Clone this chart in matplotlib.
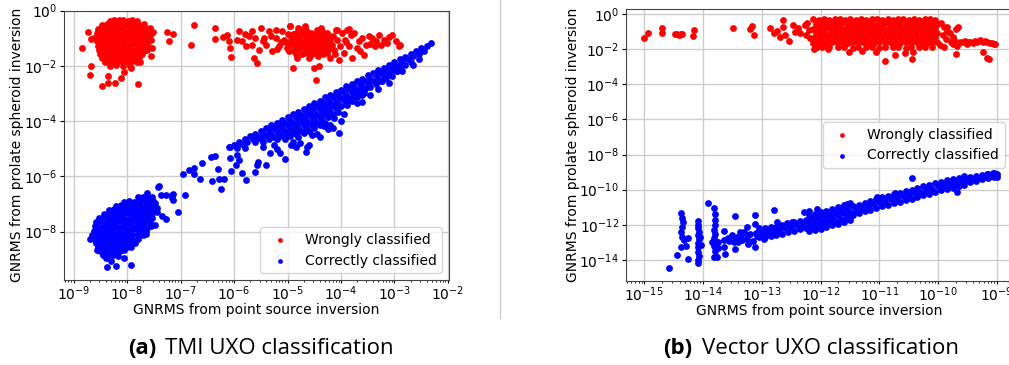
import numpy as np
import matplotlib.pyplot as plt
from matplotlib.lines import Line2D

# All values are log10(GNRMS).
# Panel (a): TMI UXO classification
tmi_wrong = [
    # dense cluster around 1e-8
    (-8.32, -0.36), (-8.24, -0.34), (-8.15, -0.35), (-8.07, -0.33), (-7.98, -0.36), (-7.9, -0.34), (-7.81, -0.37),
    (-8.46, -0.5), (-8.37, -0.48), (-8.29, -0.52), (-8.2, -0.49), (-8.12, -0.51), (-8.03, -0.47), (-7.95, -0.52),
    (-7.86, -0.5), (-7.77, -0.53), (-7.68, -0.49),
    (-8.55, -0.66), (-8.46, -0.63), (-8.38, -0.67), (-8.3, -0.64), (-8.21, -0.66), (-8.13, -0.62), (-8.04, -0.67),
    (-7.96, -0.65), (-7.87, -0.63), (-7.78, -0.68), (-7.7, -0.64), (-7.62, -0.66),
    (-8.57, -0.81), (-8.49, -0.79), (-8.4, -0.82), (-8.32, -0.78), (-8.23, -0.81), (-8.15, -0.8), (-8.06, -0.83),
    (-7.98, -0.79), (-7.89, -0.81), (-7.8, -0.78), (-7.72, -0.82), (-7.63, -0.8), (-7.56, -0.83),
    (-8.56, -0.96), (-8.47, -0.94), (-8.39, -0.97), (-8.3, -0.93), (-8.22, -0.96), (-8.13, -0.95), (-8.05, -0.92),
    (-7.96, -0.97), (-7.88, -0.94), (-7.79, -0.96), (-7.7, -0.93), (-7.6, -0.97),
    (-8.57, -1.1), (-8.48, -1.12), (-8.4, -1.08), (-8.31, -1.11), (-8.23, -1.09), (-8.14, -1.13), (-8.06, -1.1),
    (-7.97, -1.07), (-7.89, -1.12), (-7.8, -1.1), (-7.71, -1.08), (-7.62, -1.12),
    (-8.55, -1.26), (-8.46, -1.24), (-8.38, -1.27), (-8.29, -1.23), (-8.21, -1.26), (-8.12, -1.24), (-8.04, -1.28),
    (-7.95, -1.25), (-7.87, -1.22), (-7.78, -1.26), (-7.69, -1.24), (-7.61, -1.27),
    (-8.53, -1.41), (-8.45, -1.39), (-8.36, -1.42), (-8.28, -1.38), (-8.19, -1.41), (-8.11, -1.4), (-8.02, -1.43),
    (-7.94, -1.39), (-7.85, -1.41), (-7.76, -1.38), (-7.66, -1.42),
    (-8.5, -1.56), (-8.42, -1.53), (-8.33, -1.57), (-8.25, -1.54), (-8.16, -1.56), (-8.08, -1.52), (-7.99, -1.57),
    (-7.91, -1.55), (-7.82, -1.53), (-7.72, -1.57),
    (-8.47, -1.71), (-8.38, -1.68), (-8.3, -1.72), (-8.21, -1.69), (-8.13, -1.71), (-8.04, -1.67), (-7.96, -1.72),
    (-7.87, -1.7), (-7.77, -1.68),
    (-8.42, -1.86), (-8.33, -1.84), (-8.25, -1.87), (-8.16, -1.83), (-8.08, -1.86), (-7.99, -1.85), (-7.9, -1.82),
    (-7.82, -1.87),
    (-8.32, -2.0), (-8.2, -1.98), (-8.08, -2.02), (-7.95, -1.99),
    (-8.84, -1.34), (-8.74, -0.77), (-8.67, -2.02), (-8.70, -2.32), (-8.46, -2.71), (-8.35, -2.38), (-8.35, -2.6),
    (-8.23, -2.62), (-8.12, -2.44), (-8.06, -2.22), (-7.79, -2.64), (-7.93, -2.08), (-7.75, -1.84), (-7.56, -1.65),
    (-7.55, -1.05), (-7.53, -1.35), (-7.62, -1.41), (-7.65, -0.81), (-7.58, -0.63), (-8.62, -0.99), (-8.67, -1.01),
    (-7.51, -0.77), (-7.26, -0.77), (-7.14, -0.85), (-7.22, -1.11), (-6.80, -1.23), (-6.75, -0.53),
    # sparse cloud between 1e-6.4 and 1e-3
    (-6.35, -0.63), (-6.36, -1.03), (-6.13, -0.87), (-6.10, -1.11), (-6.08, -1.35), (-6.05, -1.69), (-5.91, -0.72),
    (-5.94, -1.05), (-5.85, -1.09), (-5.77, -1.29), (-5.72, -0.93), (-5.66, -0.75), (-5.66, -1.23), (-5.63, -1.72),
    (-5.57, -1.90), (-5.54, -1.41), (-5.50, -0.63), (-5.44, -0.99), (-5.41, -1.23), (-5.35, -0.75), (-5.29, -1.47),
    (-5.22, -0.69), (-5.22, -0.99), (-5.16, -1.29), (-5.10, -0.75), (-5.07, -1.05), (-5.01, -1.35), (-4.96, -0.57),
    (-4.94, -0.93), (-4.91, -1.17), (-4.88, -1.47), (-4.89, -2.08), (-4.85, -0.81), (-4.83, -1.72), (-4.81, -0.63),
    (-4.79, -1.05), (-4.76, -1.29), (-4.73, -0.87), (-4.70, -1.53), (-4.66, -0.69), (-4.66, -1.17), (-4.63, -0.99),
    (-4.62, -1.35), (-4.60, -1.72), (-4.57, -0.81), (-4.56, -1.17), (-4.54, -1.47), (-4.51, -2.08), (-4.50, -0.99),
    (-4.48, -1.29), (-4.45, -0.69), (-4.43, -1.65), (-4.41, -2.02), (-4.38, -1.11), (-4.35, -0.87), (-4.32, -1.35),
    (-4.29, -1.17), (-4.26, -1.53), (-4.23, -0.93), (-4.20, -1.72), (-4.17, -1.23), (-4.13, -1.41), (-4.08, -0.69),
    (-4.07, -1.05), (-4.04, -1.78), (-4.01, -1.29), (-3.98, -0.81), (-3.95, -1.53), (-3.92, -1.05), (-3.88, -0.69),
    (-3.85, -1.29), (-3.82, -0.87), (-3.79, -1.72), (-3.75, -0.81), (-3.70, -1.35), (-3.67, -1.11), (-3.57, -1.59),
    (-3.54, -1.23), (-3.48, -0.93), (-3.45, -1.21), (-3.42, -0.99), (-3.36, -1.29), (-3.29, -0.87), (-3.26, -1.23),
    (-3.20, -1.05), (-3.14, -1.17), (-3.04, -0.87), (-2.98, -1.11), (-2.90, -1.23), (-4.46, -2.50), (-2.95, -2.20),
    (-2.92, -1.27), (-4.96, -0.54), (-4.68, -0.54), (-4.38, -0.63), (-4.10, -0.71), (-3.85, -0.66),
    (-4.85, -1.0), (-4.75, -1.15), (-4.65, -1.35), (-4.55, -1.0), (-4.45, -1.2), (-4.35, -1.4), (-4.7, -1.25),
    (-4.6, -0.9), (-4.5, -1.1), (-4.4, -0.95), (-4.3, -1.25), (-4.8, -1.4), (-4.9, -0.85), (-4.95, -1.2),
    (-4.58, -1.6), (-4.45, -1.5), (-4.75, -0.75), (-4.62, -1.48), (-4.35, -1.05), (-4.25, -1.4), (-5.05, -1.15),
    (-4.88, -1.3), (-4.68, -1.08), (-4.52, -1.28), (-4.4, -1.32), (-4.72, -1.58),
    (-5.0, -0.85), (-4.97, -1.45), (-4.93, -1.05), (-4.86, -1.22), (-4.84, -1.55), (-4.8, -0.95), (-4.78, -1.35),
    (-4.74, -0.7), (-4.71, -1.12), (-4.68, -1.42), (-4.64, -0.8), (-4.61, -1.05), (-4.59, -1.25), (-4.55, -1.58),
    (-4.53, -0.88), (-4.49, -1.38), (-4.47, -1.05), (-4.43, -0.8), (-4.42, -1.45), (-4.39, -1.22), (-4.36, -0.75),
    (-4.33, -1.58), (-4.3, -1.0), (-4.27, -0.8), (-4.24, -1.3), (-4.21, -1.1), (-4.15, -0.9), (-4.12, -1.55),
    (-5.12, -1.15), (-5.2, -1.4), (-5.3, -0.9), (-5.45, -1.1), (-5.6, -1.0), (-5.8, -0.85), (-6.2, -0.95),
    (-3.6, -1.0), (-3.65, -1.45), (-3.9, -1.15), (-3.35, -1.1), (-3.1, -0.95),
]

tmi_correct = [
    # diagonal band, upper edge first
    (-6.1, -4.95), (-6.0, -4.86), (-5.9, -4.74), (-5.8, -4.66), (-5.7, -4.55), (-5.6, -4.46), (-5.5, -4.34),
    (-5.4, -4.26), (-5.3, -4.15), (-5.2, -4.06), (-5.1, -3.95), (-5.0, -3.86), (-4.9, -3.74), (-4.8, -3.66),
    (-4.7, -3.55), (-4.6, -3.46), (-4.5, -3.35), (-4.4, -3.26), (-4.3, -3.14), (-4.2, -3.06), (-4.1, -2.95),
    (-4.0, -2.86), (-3.9, -2.74), (-3.8, -2.66), (-3.7, -2.55), (-3.6, -2.46), (-3.5, -2.34), (-3.4, -2.26),
    (-3.3, -2.15), (-3.2, -2.06), (-3.1, -1.95), (-3.0, -1.86), (-2.9, -1.74), (-2.8, -1.66), (-2.7, -1.55),
    (-2.6, -1.46), (-2.5, -1.35), (-2.4, -1.26), (-2.31, -1.16),
    (-5.95, -4.96), (-5.85, -4.84), (-5.75, -4.76), (-5.65, -4.64), (-5.55, -4.56), (-5.45, -4.46), (-5.35, -4.34),
    (-5.25, -4.26), (-5.15, -4.14), (-5.05, -4.06), (-4.95, -3.96), (-4.85, -3.84), (-4.75, -3.76), (-4.65, -3.64),
    (-4.55, -3.56), (-4.45, -3.46), (-4.35, -3.34), (-4.25, -3.26), (-4.15, -3.14), (-4.05, -3.06), (-3.95, -2.96),
    (-3.85, -2.84), (-3.75, -2.76), (-3.65, -2.64), (-3.55, -2.56), (-3.45, -2.46), (-3.35, -2.34), (-3.25, -2.26),
    (-3.15, -2.14), (-3.05, -2.06), (-2.95, -1.96), (-2.85, -1.84), (-2.75, -1.76), (-2.65, -1.64), (-2.55, -1.56),
    (-2.45, -1.46),
    (-5.6, -4.76), (-5.5, -4.66), (-5.4, -4.54), (-5.3, -4.46), (-5.2, -4.35), (-5.1, -4.26), (-5.0, -4.14),
    (-4.9, -4.06), (-4.8, -3.95), (-4.7, -3.86), (-4.6, -3.74), (-4.5, -3.66), (-4.4, -3.55), (-4.3, -3.46),
    (-4.2, -3.34), (-4.1, -3.26), (-4.0, -3.15), (-3.9, -3.06), (-3.8, -2.94), (-3.7, -2.86), (-3.6, -2.75),
    (-3.5, -2.66), (-3.4, -2.54), (-3.3, -2.46), (-3.2, -2.35), (-3.1, -2.26), (-3.0, -2.14), (-2.9, -2.06),
    (-2.8, -1.95), (-2.7, -1.86),
    (-5.45, -4.76), (-5.35, -4.64), (-5.25, -4.56), (-5.15, -4.44), (-5.05, -4.36), (-4.95, -4.24), (-4.85, -4.16),
    (-4.75, -4.04), (-4.65, -3.96), (-4.55, -3.84), (-4.45, -3.76), (-4.35, -3.64), (-4.25, -3.56), (-4.15, -3.44),
    (-4.05, -3.36), (-3.95, -3.24), (-3.85, -3.16), (-3.75, -3.04), (-3.65, -2.96), (-3.55, -2.84), (-3.45, -2.76),
    (-3.35, -2.64), (-3.25, -2.56), (-3.15, -2.44), (-3.05, -2.36),
    (-5.2, -4.66), (-5.1, -4.54), (-5.0, -4.46), (-4.9, -4.34), (-4.8, -4.26), (-4.7, -4.14), (-4.6, -4.06),
    (-4.5, -3.94), (-4.4, -3.86), (-4.3, -3.74), (-4.2, -3.66), (-4.1, -3.54), (-4.0, -3.46), (-3.9, -3.34),
    (-3.8, -3.26), (-3.7, -3.14), (-3.6, -3.06),
    (-5.05, -4.66), (-4.95, -4.54), (-4.85, -4.46), (-4.75, -4.34), (-4.65, -4.26), (-4.55, -4.14), (-4.45, -4.06),
    (-4.35, -3.94), (-4.25, -3.86), (-4.15, -3.74), (-4.05, -3.66),
    (-4.8, -4.56), (-4.7, -4.44), (-4.6, -4.36), (-4.5, -4.26), (-4.4, -4.14), (-4.3, -4.06),
    # scatter below the band and the sparse bridge
    (-6.95, -5.91), (-6.84, -5.76), (-6.74, -5.70), (-6.75, -5.91), (-6.64, -6.09), (-6.59, -5.50), (-6.44, -5.28),
    (-6.36, -5.25), (-6.42, -6.18), (-6.30, -5.72), (-6.28, -6.10), (-6.18, -6.09), (-6.25, -6.46), (-6.07, -4.92),
    (-6.05, -5.82), (-5.94, -5.22), (-5.91, -5.42), (-5.77, -6.12), (-5.60, -5.84), (-5.55, -5.48), (-5.41, -5.58),
    (-5.04, -5.37), (-5.14, -5.16), (-4.65, -5.10), (-4.63, -4.92), (-4.40, -4.58), (-6.07, -5.34), (-5.97, -5.58),
    (-5.79, -4.98), (-5.85, -5.88), (-5.57, -5.58), (-5.32, -5.16), (-4.94, -4.86), (-4.76, -4.80), (-4.04, -4.41),
    (-4.32, -4.19), (-4.2, -4.13), (-4.13, -3.89), (-3.88, -3.41), (-3.76, -3.10), (-3.57, -2.98), (-3.23, -2.56),
    (-2.95, -2.2), (-5.45, -4.95), (-5.25, -4.85), (-5.2, -5.0), (-4.9, -4.75), (-4.85, -4.95), (-4.55, -4.5),
    (-4.45, -4.45), (-4.25, -4.3), (-4.0, -4.0), (-3.95, -3.75), (-3.7, -3.35), (-3.45, -3.05), (-3.3, -2.85),
    (-3.1, -2.6), (-2.85, -2.2), (-2.65, -1.95), (-2.55, -1.75), (-3.6, -3.3), (-4.15, -4.25), (-4.6, -4.85),
    # cluster around 1e-8
    (-7.8, -6.76), (-7.71, -6.73), (-7.62, -6.77), (-7.54, -6.74),
    (-8.05, -6.91), (-7.96, -6.88), (-7.87, -6.92), (-7.78, -6.9), (-7.69, -6.87), (-7.6, -6.92), (-7.52, -6.89),
    (-8.2, -7.06), (-8.11, -7.03), (-8.02, -7.07), (-7.93, -7.04), (-7.84, -7.06), (-7.75, -7.02), (-7.66, -7.07),
    (-7.57, -7.05), (-7.5, -7.03),
    (-8.33, -7.21), (-8.24, -7.18), (-8.15, -7.22), (-8.06, -7.19), (-7.97, -7.21), (-7.88, -7.2), (-7.79, -7.23),
    (-7.7, -7.18), (-7.61, -7.21), (-7.53, -7.19),
    (-8.43, -7.36), (-8.34, -7.33), (-8.25, -7.37), (-8.16, -7.34), (-8.07, -7.36), (-7.98, -7.32), (-7.89, -7.37),
    (-7.8, -7.35), (-7.71, -7.33), (-7.62, -7.37), (-7.54, -7.34),
    (-8.52, -7.51), (-8.43, -7.48), (-8.34, -7.52), (-8.25, -7.49), (-8.16, -7.51), (-8.07, -7.5), (-7.98, -7.53),
    (-7.89, -7.48), (-7.8, -7.51), (-7.71, -7.49), (-7.62, -7.52), (-7.54, -7.5),
    (-8.58, -7.66), (-8.49, -7.63), (-8.4, -7.67), (-8.31, -7.64), (-8.22, -7.66), (-8.13, -7.62), (-8.04, -7.67),
    (-7.95, -7.65), (-7.86, -7.63), (-7.77, -7.67), (-7.68, -7.64), (-7.58, -7.66),
    (-8.6, -7.8), (-8.51, -7.82), (-8.42, -7.78), (-8.33, -7.81), (-8.24, -7.79), (-8.15, -7.83), (-8.06, -7.8),
    (-7.97, -7.77), (-7.88, -7.82), (-7.79, -7.8), (-7.7, -7.78), (-7.61, -7.82),
    (-8.61, -7.96), (-8.52, -7.94), (-8.43, -7.97), (-8.34, -7.93), (-8.25, -7.96), (-8.16, -7.94), (-8.07, -7.98),
    (-7.98, -7.95), (-7.89, -7.92), (-7.8, -7.96), (-7.7, -7.94), (-7.64, -7.97),
    (-8.62, -8.11), (-8.53, -8.09), (-8.44, -8.12), (-8.35, -8.08), (-8.26, -8.11), (-8.17, -8.1), (-8.08, -8.13),
    (-7.99, -8.09), (-7.9, -8.11), (-7.8, -8.08), (-7.71, -8.12),
    (-8.62, -8.26), (-8.53, -8.23), (-8.44, -8.27), (-8.35, -8.24), (-8.26, -8.26), (-8.17, -8.22), (-8.08, -8.27),
    (-7.99, -8.25), (-7.9, -8.23), (-7.8, -8.26),
    (-8.58, -8.41), (-8.49, -8.39), (-8.4, -8.42), (-8.31, -8.38), (-8.22, -8.41), (-8.13, -8.4), (-8.04, -8.43),
    (-7.95, -8.39), (-7.86, -8.41),
    (-8.55, -8.56), (-8.46, -8.53), (-8.37, -8.57), (-8.28, -8.54), (-8.19, -8.56), (-8.1, -8.52), (-8.01, -8.57),
    (-7.93, -8.55),
    (-8.5, -8.71), (-8.41, -8.68), (-8.32, -8.72), (-8.23, -8.69), (-8.14, -8.71), (-8.05, -8.67),
    (-8.35, -8.86), (-8.26, -8.84), (-8.17, -8.87),
    (-8.69, -8.27), (-8.65, -8.12), (-8.56, -8.66), (-8.40, -8.96), (-8.37, -9.29), (-8.20, -9.26), (-7.93, -9.20),
    (-8.06, -8.96), (-7.65, -8.08), (-7.56, -7.81), (-7.28, -7.55), (-7.62, -6.61), (-7.41, -6.36), (-7.37, -6.67),
    (-7.28, -6.67), (-7.16, -6.67), (-7.16, -6.79), (-6.92, -6.67), (-7.04, -7.27), (-7.34, -7.43), (-7.44, -7.15),
    (-7.42, -6.39), (-7.14, -6.64), (-7.14, -6.85), (-7.48, -6.95), (-7.45, -7.3), (-7.47, -7.75), (-8.3, -9.05),
    (-8.45, -8.85),
]

# Panel (b): Vector UXO classification
vec_wrong = [
    (-15.0, -1.38), (-14.93, -1.06), (-14.70, -0.78), (-14.69, -1.10), (-14.47, -1.16), (-14.44, -1.15),
    (-14.41, -1.17), (-14.38, -1.16), (-14.35, -1.16), (-14.16, -0.91), (-14.17, -1.23), (-13.49, -0.81),
    (-13.20, -0.85), (-13.17, -0.68), (-13.13, -1.20),
    (-12.86, -0.82), (-12.79, -1.10), (-12.74, -0.97), (-12.64, -0.34), (-12.63, -0.72), (-12.60, -1.20),
    (-12.53, -1.54), (-12.46, -0.63), (-12.43, -1.01), (-12.38, -0.82), (-12.35, -1.10), (-12.26, -0.63),
    (-12.25, -1.20), (-12.20, -0.91), (-12.18, -1.38), (-12.13, -1.67), (-12.11, -2.01), (-12.69, -1.29),
    (-12.23, -0.53), (-12.06, -1.86), (-11.88, -2.01),
    # dense block
    (-12.12, -0.31), (-12.03, -0.33), (-11.94, -0.3), (-11.85, -0.32), (-11.76, -0.29), (-11.67, -0.31),
    (-11.58, -0.33), (-11.49, -0.3), (-11.4, -0.32), (-11.31, -0.3), (-11.22, -0.33), (-11.13, -0.31),
    (-11.04, -0.29), (-10.95, -0.32), (-10.86, -0.3), (-10.77, -0.33), (-10.68, -0.31), (-10.59, -0.29),
    (-10.5, -0.32), (-10.41, -0.3), (-10.32, -0.33), (-10.23, -0.31), (-10.14, -0.3), (-10.05, -0.32),
    (-12.08, -0.57), (-11.99, -0.55), (-11.9, -0.59), (-11.81, -0.56), (-11.72, -0.58), (-11.63, -0.54),
    (-11.54, -0.59), (-11.45, -0.57), (-11.36, -0.55), (-11.27, -0.58), (-11.18, -0.56), (-11.09, -0.6),
    (-11.0, -0.57), (-10.91, -0.54), (-10.82, -0.58), (-10.73, -0.56), (-10.64, -0.59), (-10.55, -0.57),
    (-10.46, -0.55), (-10.37, -0.58), (-10.28, -0.56), (-10.19, -0.59), (-10.1, -0.57), (-10.01, -0.55),
    (-12.12, -0.83), (-12.03, -0.81), (-11.94, -0.85), (-11.85, -0.82), (-11.76, -0.84), (-11.67, -0.8),
    (-11.58, -0.85), (-11.49, -0.83), (-11.4, -0.81), (-11.31, -0.84), (-11.22, -0.82), (-11.13, -0.86),
    (-11.04, -0.83), (-10.95, -0.8), (-10.86, -0.84), (-10.77, -0.82), (-10.68, -0.85), (-10.59, -0.83),
    (-10.5, -0.81), (-10.41, -0.84), (-10.32, -0.82), (-10.23, -0.85), (-10.14, -0.83), (-10.05, -0.81),
    (-12.08, -1.09), (-11.99, -1.07), (-11.9, -1.11), (-11.81, -1.08), (-11.72, -1.1), (-11.63, -1.06),
    (-11.54, -1.11), (-11.45, -1.09), (-11.36, -1.07), (-11.27, -1.1), (-11.18, -1.08), (-11.09, -1.12),
    (-11.0, -1.09), (-10.91, -1.06), (-10.82, -1.1), (-10.73, -1.08), (-10.64, -1.11), (-10.55, -1.09),
    (-10.46, -1.07), (-10.37, -1.1), (-10.28, -1.08), (-10.19, -1.11), (-10.1, -1.09), (-10.01, -1.07),
    (-12.12, -1.35), (-12.03, -1.33), (-11.94, -1.37), (-11.85, -1.34), (-11.76, -1.36), (-11.67, -1.32),
    (-11.58, -1.37), (-11.49, -1.35), (-11.4, -1.33), (-11.31, -1.36), (-11.22, -1.34), (-11.13, -1.38),
    (-11.04, -1.35), (-10.95, -1.32), (-10.86, -1.36), (-10.77, -1.34), (-10.68, -1.37), (-10.59, -1.35),
    (-10.5, -1.33), (-10.41, -1.36), (-10.32, -1.34), (-10.23, -1.37), (-10.14, -1.35), (-10.05, -1.33),
    (-12.08, -1.61), (-11.99, -1.59), (-11.9, -1.63), (-11.81, -1.6), (-11.72, -1.62), (-11.63, -1.58),
    (-11.54, -1.63), (-11.45, -1.61), (-11.36, -1.59), (-11.27, -1.62), (-11.18, -1.6), (-11.09, -1.64),
    (-11.0, -1.61), (-10.91, -1.58), (-10.82, -1.62), (-10.73, -1.6), (-10.64, -1.63), (-10.55, -1.61),
    (-10.46, -1.59), (-10.37, -1.62), (-10.28, -1.6), (-10.19, -1.63), (-10.1, -1.61), (-10.01, -1.59),
    (-12.1, -1.87), (-11.97, -1.89), (-11.85, -1.86), (-11.7, -1.9), (-11.6, -1.87), (-11.45, -1.91),
    (-11.36, -1.86), (-11.22, -1.89), (-11.13, -1.87), (-11.0, -1.92), (-10.9, -1.86), (-10.77, -1.9),
    (-10.68, -1.87), (-10.55, -1.91), (-10.46, -1.86), (-10.32, -1.89), (-10.23, -1.87), (-10.1, -1.9),
    # right side and tail
    (-9.95, -0.5), (-9.9, -0.75), (-9.85, -0.95), (-9.92, -1.2), (-9.87, -1.42), (-9.8, -1.1), (-9.75, -1.3),
    (-9.7, -0.85), (-9.66, -0.76), (-9.72, -1.5), (-9.96, -1.75), (-9.9, -1.9), (-9.85, -0.72),
    (-9.63, -1.57), (-9.57, -1.62), (-9.54, -1.52), (-9.48, -1.6), (-9.46, -1.57), (-9.4, -1.63), (-9.37, -1.52),
    (-9.33, -1.58), (-9.29, -1.48), (-9.24, -1.6), (-9.2, -1.55), (-9.17, -1.57), (-9.12, -1.63), (-9.09, -1.67),
    (-9.04, -1.72), (-9.5, -1.72), (-9.68, -1.8), (-9.75, -1.7), (-9.78, -1.58), (-9.03, -1.71),
    (-11.51, -2.18), (-11.30, -2.11), (-11.05, -2.18), (-10.91, -2.68), (-10.73, -2.33), (-10.56, -2.24),
    (-10.45, -2.58), (-10.42, -2.18), (-9.69, -2.28), (-9.24, -2.14), (-9.17, -2.52), (-9.14, -2.58),
]

vec_correct = [
    # main band, centre row
    (-13.1, -12.45), (-13.0, -12.41), (-12.9, -12.42), (-12.8, -12.38), (-12.7, -12.32), (-12.6, -12.21),
    (-12.5, -12.15), (-12.4, -12.04), (-12.3, -11.99), (-12.2, -11.9), (-12.1, -11.85), (-12.0, -11.76),
    (-11.9, -11.68), (-11.8, -11.55), (-11.7, -11.47), (-11.6, -11.34), (-11.5, -11.26), (-11.4, -11.14),
    (-11.3, -11.05), (-11.2, -10.93), (-11.1, -10.84), (-11.0, -10.72), (-10.9, -10.66), (-10.8, -10.55),
    (-10.7, -10.49), (-10.6, -10.38), (-10.5, -10.32), (-10.4, -10.2), (-10.3, -10.13), (-10.2, -10.01),
    (-10.1, -9.94), (-10.0, -9.82), (-9.9, -9.76), (-9.8, -9.67), (-9.7, -9.61), (-9.6, -9.52), (-9.5, -9.46),
    (-9.4, -9.38), (-9.3, -9.33), (-9.2, -9.25), (-9.1, -9.2), (-9.0, -9.12),
    # upper row
    (-13.05, -12.18), (-12.95, -12.17), (-12.85, -12.14), (-12.75, -12.11), (-12.65, -12.02), (-12.55, -11.93),
    (-12.45, -11.85), (-12.35, -11.76), (-12.25, -11.7), (-12.15, -11.62), (-12.05, -11.56), (-11.95, -11.47),
    (-11.85, -11.36), (-11.75, -11.26), (-11.65, -11.16), (-11.55, -11.05), (-11.45, -10.95), (-11.35, -10.85),
    (-11.25, -10.74), (-11.15, -10.64), (-11.05, -10.53), (-10.95, -10.44), (-10.85, -10.36), (-10.75, -10.27),
    (-10.65, -10.19), (-10.55, -10.1), (-10.45, -10.01), (-10.35, -9.92), (-10.25, -9.82), (-10.15, -9.73),
    (-10.05, -9.63), (-9.95, -9.54), (-9.85, -9.47), (-9.75, -9.39), (-9.65, -9.32), (-9.55, -9.24),
    (-9.45, -9.29), (-9.35, -9.22), (-9.25, -9.16), (-9.15, -9.1), (-9.05, -9.04),
    # lower row
    (-13.05, -12.68), (-12.95, -12.67), (-12.85, -12.65), (-12.75, -12.6), (-12.65, -12.52), (-12.55, -12.43),
    (-12.45, -12.35), (-12.35, -12.26), (-12.25, -12.2), (-12.15, -12.12), (-12.05, -12.06), (-11.95, -11.97),
    (-11.85, -11.86), (-11.75, -11.76), (-11.65, -11.66), (-11.55, -11.55), (-11.45, -11.45), (-11.35, -11.35),
    (-11.25, -11.24), (-11.15, -11.14), (-11.05, -11.03), (-10.95, -10.94), (-10.85, -10.86), (-10.75, -10.77),
    (-10.65, -10.69), (-10.55, -10.6), (-10.45, -10.51), (-10.35, -10.42), (-10.25, -10.32), (-10.15, -10.23),
    (-10.05, -10.13), (-9.95, -10.04), (-9.85, -9.97), (-9.75, -9.89), (-9.65, -9.82), (-9.55, -9.74),
    (-9.45, -9.55), (-9.35, -9.49), (-9.25, -9.42), (-9.15, -9.36), (-9.05, -9.28),
    # wider part near 1e-12
    (-12.2, -11.45), (-12.1, -11.37), (-12.0, -11.3), (-11.9, -11.2), (-11.8, -11.08), (-11.7, -10.98),
    (-11.6, -10.88), (-11.5, -10.78),
    (-12.2, -12.38), (-12.1, -12.3), (-12.0, -12.25), (-11.9, -12.15), (-11.8, -12.03), (-11.7, -11.93),
    (-11.6, -11.83), (-11.5, -11.72),
    # vertical streaks and scatter at the low end
    (-14.57, -14.48), (-14.44, -13.72), (-14.38, -11.31), (-14.36, -11.63), (-14.34, -11.82), (-14.36, -12.10),
    (-14.38, -12.39), (-14.36, -12.67), (-14.33, -12.86), (-14.37, -13.24), (-14.26, -12.77), (-14.29, -13.21),
    (-14.26, -13.95), (-14.09, -11.76), (-14.08, -12.01), (-14.09, -12.20), (-14.07, -12.39), (-14.09, -12.58),
    (-14.07, -12.83), (-14.09, -13.05), (-14.08, -13.28), (-14.09, -13.53), (-14.07, -13.77), (-14.09, -14.0),
    (-14.08, -14.15), (-14.05, -12.67), (-14.04, -13.15), (-13.92, -10.74), (-13.81, -11.06), (-13.80, -11.38),
    (-13.79, -11.73), (-13.80, -12.01), (-13.82, -12.29), (-13.79, -12.52), (-13.81, -12.77), (-13.84, -12.96),
    (-13.82, -13.21), (-13.79, -13.47), (-13.82, -13.81), (-13.76, -13.81), (-13.75, -13.34), (-13.74, -12.96),
    (-13.65, -12.33), (-13.64, -12.86), (-13.65, -13.28), (-13.62, -13.66), (-13.57, -12.77), (-13.51, -12.58),
    (-13.48, -12.96), (-13.45, -13.40), (-13.46, -11.50), (-13.42, -12.71), (-13.37, -12.39), (-13.34, -12.86),
    (-13.25, -12.10), (-13.23, -12.58), (-13.23, -13.09), (-13.11, -11.44), (-13.11, -11.95), (-13.08, -12.64),
    (-13.11, -13.28), (-12.97, -12.83), (-12.80, -11.16), (-12.74, -11.82), (-12.57, -11.92), (-12.49, -11.82),
    (-12.28, -11.25), (-12.19, -11.21), (-12.06, -11.12), (-11.55, -10.81), (-11.04, -10.40), (-10.73, -10.21),
    (-10.45, -9.35), (-9.68, -10.15), (-9.06, -9.07), (-9.0, -9.26), (-9.17, -9.11),
    (-13.55, -12.9), (-13.45, -12.75), (-13.35, -12.65), (-13.25, -12.8), (-13.2, -12.5), (-13.15, -12.95),
    (-13.4, -13.0), (-13.3, -12.4),
]

W, H = 1009, 365
plt.rcParams["font.family"] = "DejaVu Sans"
plt.rcParams["font.size"] = 10

fig = plt.figure(figsize=(W / 100, H / 100), dpi=100)
ax1 = fig.add_axes([64 / W, 1 - 280 / H, (449 - 64) / W, (280 - 10.7) / H])
ax2 = fig.add_axes([626 / W, 1 - 281 / H, (1011.5 - 626) / W, (281 - 9) / H])


def unlog(pts):
    a = np.array(pts)
    return 10 ** a[:, 0], 10 ** a[:, 1]


for ax, wrong, correct in [(ax1, tmi_wrong, tmi_correct), (ax2, vec_wrong, vec_correct)]:
    wx, wy = unlog(wrong)
    cx, cy = unlog(correct)
    ax.scatter(wx, wy, s=24, color="#ff0000", linewidths=0, label="Wrongly classified")
    ax.scatter(cx, cy, s=24, color="#0000ff", linewidths=0, label="Correctly classified")
    ax.set_xscale("log")
    ax.set_yscale("log")
    ax.set_axisbelow(True)
    ax.grid(True, which="major", color="#cccccc", linewidth=1.0)
    ax.tick_params(axis="x", which="major", length=2.5, pad=0.5)
    ax.tick_params(axis="y", which="major", length=3, pad=2)
    ax.tick_params(which="minor", length=1.5)
    ax.set_xlabel("GNRMS from point source inversion", labelpad=0.5)
    ax.set_ylabel("GNRMS from prolate spheroid inversion", labelpad=-0.5)
    for sp in ax.spines.values():
        sp.set_color("#444444")

ax1.set_xlim(10 ** -9.18, 10 ** -1.98)
ax1.set_ylim(10 ** -9.75, 1)
ax1.set_xticks([10.0 ** k for k in range(-9, -1)])
ax1.set_yticks([10.0 ** k for k in range(-8, 1, 2)])
ax1.legend(loc="lower right", scatterpoints=1, markerscale=0.7)

ax2.set_xlim(10 ** -15.31, 10 ** -8.75)
ax2.set_ylim(10 ** -15.2, 10 ** 0.285)
ax2.set_xticks([10.0 ** k for k in range(-15, -8)])
ax2.set_yticks([10.0 ** k for k in range(-14, 1, 2)])
ax2.legend(loc="center right", scatterpoints=1, markerscale=0.7)

# thin divider between the two sub-figures
fig.add_artist(Line2D([500 / W, 500 / W], [1, 1 - 318 / H], color="#cccccc", linewidth=1))

# sub-captions: bold tag + plain text, centred as a group
cap_y = 1 - 348 / H
renderer = fig.canvas.get_renderer()
for tag, text, centre in [("(a)", "TMI UXO classification", 261), ("(b)", "Vector UXO classification", 811)]:
    t1 = fig.text(0, cap_y, tag, fontsize=16, fontweight="bold", family="Open Sans", va="center")
    t2 = fig.text(0, cap_y, text, fontsize=16, family="Open Sans", va="center")
    w1 = t1.get_window_extent(renderer).width
    w2 = t2.get_window_extent(renderer).width
    gap = 9
    left = centre - (w1 + gap + w2) / 2
    t1.set_x(left / W)
    t2.set_x((left + w1 + gap) / W)

fig.savefig("out.png", dpi=100)
